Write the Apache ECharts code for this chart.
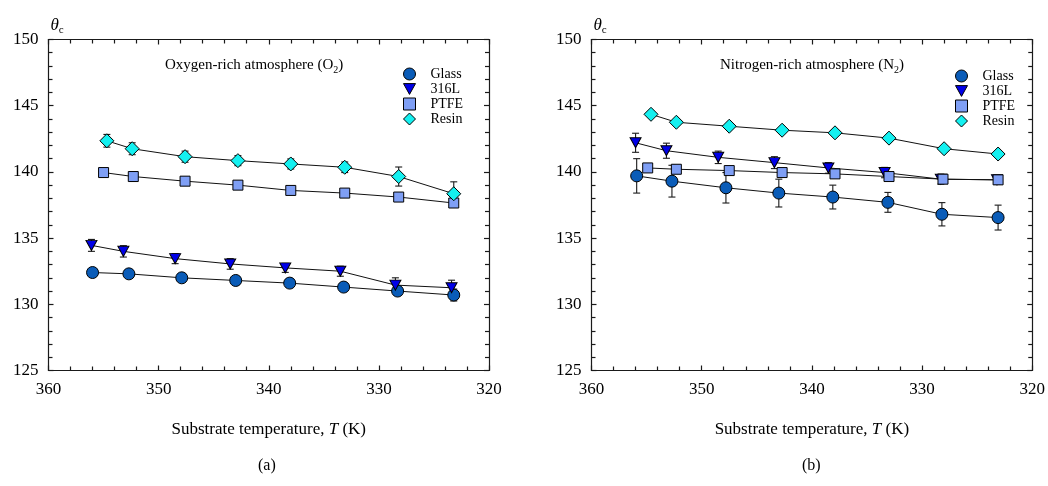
<!DOCTYPE html>
<html>
<head>
<meta charset="utf-8">
<script src="https://cdn.jsdelivr.net/npm/echarts@6/dist/echarts.min.js"></script>
<style>
html,body{margin:0;padding:0;background:#fff;}
#chart{width:1048px;height:486px;}
</style>
</head>
<body>
<div id="chart"></div>
<script>
// ---------- Data ----------
const seriesNames = ['Glass', '316L', 'PTFE', 'Resin'];
const xTicks = [360, 350, 340, 330, 320];
const yTicks = [125, 130, 135, 140, 145, 150];

// (a) Oxygen-rich atmosphere
const o2GlassT = [356.0, 352.7, 347.9, 343.0, 338.1, 333.2, 328.3, 323.2];
const o2GlassY = [132.4, 132.3, 132.0, 131.8, 131.6, 131.3, 131.0, 130.7];
const o2GlassE = [0.15, 0.15, 0.15, 0.2, 0.15, 0.2, 0.3, 0.45];
const o2SteelT = [356.1, 353.2, 348.5, 343.5, 338.5, 333.5, 328.5, 323.4];
const o2SteelY = [134.45, 134.0, 133.45, 133.05, 132.75, 132.5, 131.45, 131.25];
const o2SteelE = [0.45, 0.43, 0.38, 0.4, 0.34, 0.38, 0.55, 0.57];
const o2PtfeT = [355.0, 352.3, 347.6, 342.8, 338.0, 333.1, 328.2, 323.2];
const o2PtfeY = [139.95, 139.65, 139.3, 139.0, 138.6, 138.4, 138.1, 137.65];
const o2PtfeE = [0.3, 0.35, 0.25, 0.15, 0.12, 0.12, 0.12, 0.15];
const o2ResinT = [354.7, 352.4, 347.6, 342.8, 338.0, 333.1, 328.2, 323.2];
const o2ResinY = [142.35, 141.75, 141.15, 140.85, 140.6, 140.35, 139.65, 138.35];
const o2ResinE = [0.48, 0.45, 0.42, 0.38, 0.38, 0.4, 0.72, 0.9];

// (b) Nitrogen-rich atmosphere
const n2GlassT = [355.9, 352.7, 347.8, 343.0, 338.1, 333.1, 328.2, 323.1];
const n2GlassY = [139.7, 139.3, 138.8, 138.4, 138.1, 137.7, 136.8, 136.55];
const n2GlassE = [1.3, 1.2, 1.15, 1.05, 0.9, 0.75, 0.88, 0.94];
const n2SteelT = [356.0, 353.2, 348.5, 343.4, 338.5, 333.4, 328.3, 323.2];
const n2SteelY = [142.2, 141.6, 141.1, 140.7, 140.3, 139.95, 139.45, 139.4];
const n2SteelE = [0.72, 0.57, 0.47, 0.45, 0.4, 0.39, 0.38, 0.35];
const n2PtfeT = [354.9, 352.3, 347.5, 342.7, 337.9, 333.0, 328.1, 323.1];
const n2PtfeY = [140.3, 140.2, 140.1, 139.95, 139.85, 139.65, 139.45, 139.4];
const n2PtfeE = [0.15, 0.3, 0.2, 0.15, 0.15, 0.15, 0.3, 0.3];
const n2ResinT = [354.6, 352.3, 347.5, 342.7, 337.9, 333.0, 328.0, 323.1];
const n2ResinY = [144.35, 143.75, 143.45, 143.15, 142.95, 142.55, 141.75, 141.35];
const n2ResinE = [0.08, 0.08, 0.08, 0.08, 0.08, 0.08, 0.08, 0.08];

// ---------- Styles ----------
const FONT = 'Liberation Serif';
const colors = {Glass: '#0a5cb8', '316L': '#0000e8', PTFE: '#7f9ff5', Resin: '#14f0f0'};
const triPath = 'path://M0,0 L10,0 L5,9 Z';
const symbols = {Glass: 'circle', '316L': triPath, PTFE: 'rect', Resin: 'diamond'};
const sizes = {Glass: 12, '316L': [11, 10], PTFE: 10, Resin: 14};

const panels = [
  {T: [o2GlassT, o2SteelT, o2PtfeT, o2ResinT], Y: [o2GlassY, o2SteelY, o2PtfeY, o2ResinY], E: [o2GlassE, o2SteelE, o2PtfeE, o2ResinE]},
  {T: [n2GlassT, n2SteelT, n2PtfeT, n2ResinT], Y: [n2GlassY, n2SteelY, n2PtfeY, n2ResinY], E: [n2GlassE, n2SteelE, n2PtfeE, n2ResinE]}
];

const grids = [
  {left: 48.5, top: 39.5, width: 440.5, height: 331},
  {left: 591.5, top: 39.5, width: 441, height: 331}
];

const lineStyleAxis = {color: '#1a1a1a', width: 1.2};

function xAxisDef(gi, pos) {
  const bottom = pos === 'bottom';
  return {
    gridIndex: gi, type: 'value', position: pos,
    min: xTicks[xTicks.length - 1], max: xTicks[0], interval: 10, inverse: true,
    axisLine: {show: true, onZero: false, lineStyle: lineStyleAxis},
    axisTick: {show: true, inside: true, length: 5, lineStyle: lineStyleAxis},
    minorTick: {show: true, splitNumber: 5, length: 4, lineStyle: lineStyleAxis},
    splitLine: {show: false},
    axisLabel: {show: bottom, fontFamily: FONT, fontSize: 17, color: '#000', margin: 11},
    name: bottom ? '{n|Substrate temperature, }{i|T}{n| (K)}' : '',
    nameLocation: 'middle', nameGap: 51,
    nameTextStyle: {rich: {
      n: {fontFamily: FONT, fontSize: 17, color: '#000'},
      i: {fontFamily: FONT, fontSize: 17, color: '#000', fontStyle: 'italic'}
    }}
  };
}
function yAxisDef(gi, pos) {
  const left = pos === 'left';
  return {
    gridIndex: gi, type: 'value', position: pos,
    min: yTicks[0], max: yTicks[yTicks.length - 1], interval: 5,
    axisLine: {show: true, onZero: false, lineStyle: lineStyleAxis},
    axisTick: {show: true, inside: true, length: 5, lineStyle: lineStyleAxis},
    minorTick: {show: true, splitNumber: 5, length: 4, lineStyle: lineStyleAxis},
    splitLine: {show: false},
    axisLabel: {show: left, fontFamily: FONT, fontSize: 17, color: '#000', margin: 10},
    name: left ? '{t|θ}{s|c}' : '',
    nameLocation: 'end', nameGap: 4,
    nameTextStyle: {align: 'left', padding: [0, 0, 0, 2], rich: {
      t: {fontFamily: FONT, fontSize: 17, fontStyle: 'italic', color: '#000', lineHeight: 20, verticalAlign: 'middle'},
      s: {fontFamily: FONT, fontSize: 11, color: '#000', lineHeight: 20, verticalAlign: 'bottom'}
    }}
  };
}

const xAxes = [], yAxes = [];
[0, 1].forEach(gi => {
  xAxes.push(xAxisDef(gi, 'bottom'));
  xAxes.push(xAxisDef(gi, 'top'));
  yAxes.push(yAxisDef(gi, 'left'));
  yAxes.push(yAxisDef(gi, 'right'));
});

function renderErr(params, api) {
  const x = api.value(0), lo = api.value(1), hi = api.value(2);
  const p1 = api.coord([x, lo]), p2 = api.coord([x, hi]);
  const w = 3.5;
  const st = {stroke: '#1a1a1a', lineWidth: 1.1};
  return {type: 'group', children: [
    {type: 'line', shape: {x1: p1[0], y1: p1[1], x2: p2[0], y2: p2[1]}, style: st},
    {type: 'line', shape: {x1: p1[0] - w, y1: p1[1], x2: p1[0] + w, y2: p1[1]}, style: st},
    {type: 'line', shape: {x1: p2[0] - w, y1: p2[1], x2: p2[0] + w, y2: p2[1]}, style: st}
  ]};
}

const series = [];
panels.forEach((p, gi) => {
  seriesNames.forEach((name, si) => {
    const T = p.T[si], Y = p.Y[si], E = p.E[si];
    series.push({
      type: 'custom', name: name + ' error', xAxisIndex: gi * 2, yAxisIndex: gi * 2,
      renderItem: renderErr, encode: {x: 0, y: [1, 2]}, z: 1, silent: true,
      data: T.map((t, i) => [t, Y[i] - E[i], Y[i] + E[i]])
    });
    series.push({
      type: 'line', name: name, xAxisIndex: gi * 2, yAxisIndex: gi * 2,
      data: T.map((t, i) => [t, Y[i]]),
      symbol: symbols[name], symbolSize: sizes[name], showAllSymbol: true,
      lineStyle: {color: '#111', width: 1},
      itemStyle: {color: colors[name], borderColor: '#000', borderWidth: 1},
      z: 3, animation: false
    });
  });
});

function legendDef(left, top) {
  return {
    orient: 'vertical', left: left, top: top,
    itemWidth: 12, itemHeight: 12, itemGap: 1,
    textStyle: {fontFamily: FONT, fontSize: 14, color: '#000', lineHeight: 14, padding: [0, 0, 0, 10]},
    itemStyle: {borderColor: '#000', borderWidth: 1},
    selectedMode: false,
    data: seriesNames.map(n => ({name: n, icon: symbols[n]}))
  };
}

const subRich = {
  n: {fontFamily: FONT, fontSize: 15, fill: '#000', lineHeight: 20, verticalAlign: 'middle'},
  s: {fontFamily: FONT, fontSize: 10, fill: '#000', lineHeight: 20, verticalAlign: 'bottom'}
};

const option = {
  backgroundColor: '#fff',
  animation: false,
  grid: grids,
  xAxis: xAxes,
  yAxis: yAxes,
  legend: [legendDef(398, 62), legendDef(950, 64)],
  series: series,
  graphic: [
    {type: 'text', left: 165, top: 58, style: {text: '{n|Oxygen-rich atmosphere (O}{s|2}{n|)}', rich: subRich}},
    {type: 'text', left: 720, top: 58, style: {text: '{n|Nitrogen-rich atmosphere (N}{s|2}{n|)}', rich: subRich}},
    {type: 'text', left: 258, top: 458, style: {text: '(a)', font: '16px "Liberation Serif"', fill: '#000'}},
    {type: 'text', left: 802, top: 458, style: {text: '(b)', font: '16px "Liberation Serif"', fill: '#000'}}
  ]
};

const chart = echarts.init(document.getElementById('chart'), null, {renderer: 'canvas'});
chart.setOption(option);
</script>
</body>
</html>
